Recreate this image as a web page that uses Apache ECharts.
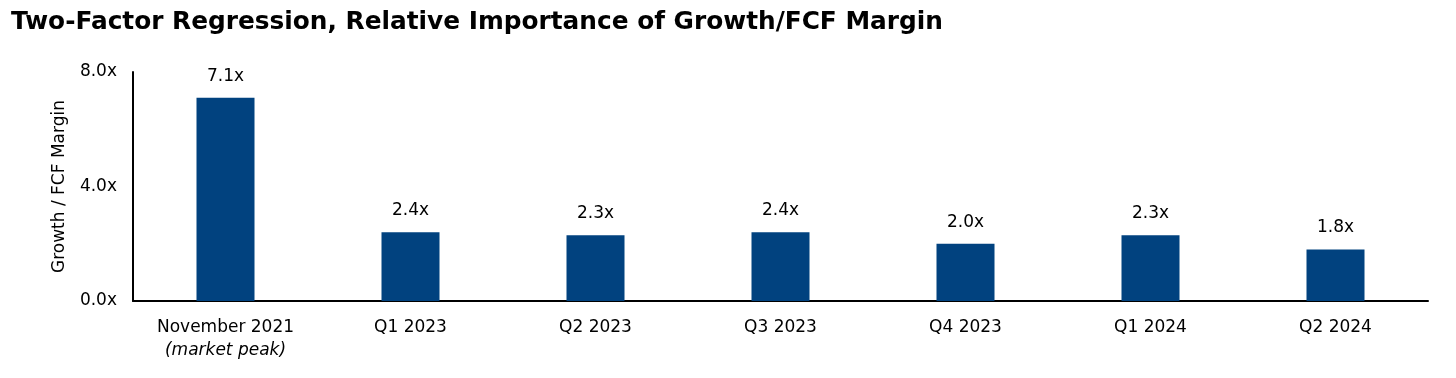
<!DOCTYPE html>
<html><head><meta charset="utf-8">
<script src="https://cdn.jsdelivr.net/npm/echarts@6/dist/echarts.min.js"></script>
<style>html,body{margin:0;padding:0;background:#fff}#c{width:1456px;height:378px}</style>
</head><body><div id="c"></div>
<script>
const categories = ["November 2021", "Q1 2023", "Q2 2023", "Q3 2023", "Q4 2023", "Q1 2024", "Q2 2024"];
const subLabels = ["(market peak)", "", "", "", "", "", ""];
const values = [7.1, 2.4, 2.3, 2.4, 2.0, 2.3, 1.8];
const yTicks = [0, 4, 8];
const titleText = "Two-Factor Regression, Relative Importance of Growth/FCF Margin";
const yAxisName = "Growth / FCF Margin";

const F = '"DejaVu Sans", sans-serif';
const chart = echarts.init(document.getElementById('c'));
chart.setOption({
  animation: false,
  textStyle: { fontFamily: F },
  title: {
    text: titleText, left: 6, top: 5,
    textStyle: { fontFamily: F, fontWeight: 'bold', fontSize: 24.8, color: '#000' }
  },
  grid: { left: 133, right: 28, top: 72, bottom: 77 },
  xAxis: {
    type: 'category', data: categories,
    axisLine: { lineStyle: { color: '#000', width: 2 } },
    axisTick: { show: false },
    axisLabel: {
      interval: 0,
      color: '#000', fontSize: 17, fontFamily: F, margin: 15, lineHeight: 23,
      formatter: (v, i) => subLabels[i] ? v + '\n{it|' + subLabels[i] + '}' : v,
      rich: { it: { fontStyle: 'italic', fontSize: 17, fontFamily: F, color: '#000', lineHeight: 23 } }
    }
  },
  yAxis: {
    type: 'value', min: 0, max: 8, interval: 4,
    name: yAxisName, nameLocation: 'middle', nameGap: 65, nameRotate: 90,
    nameTextStyle: { color: '#000', fontSize: 17, fontFamily: F },
    axisLine: { show: true, lineStyle: { color: '#000', width: 2 } },
    axisTick: { show: false },
    splitLine: { show: false },
    axisLabel: { color: '#000', fontSize: 17, fontFamily: F, margin: 16, formatter: v => yTicks.includes(v) ? v.toFixed(1) + 'x' : '' }
  },
  series: [{
    type: 'bar', data: values, barWidth: 58,
    itemStyle: { color: '#01427F' },
    label: { show: true, position: 'top', distance: 13, color: '#000', fontSize: 17, fontFamily: F, formatter: p => p.value.toFixed(1) + 'x' }
  }]
});
</script></body></html>
